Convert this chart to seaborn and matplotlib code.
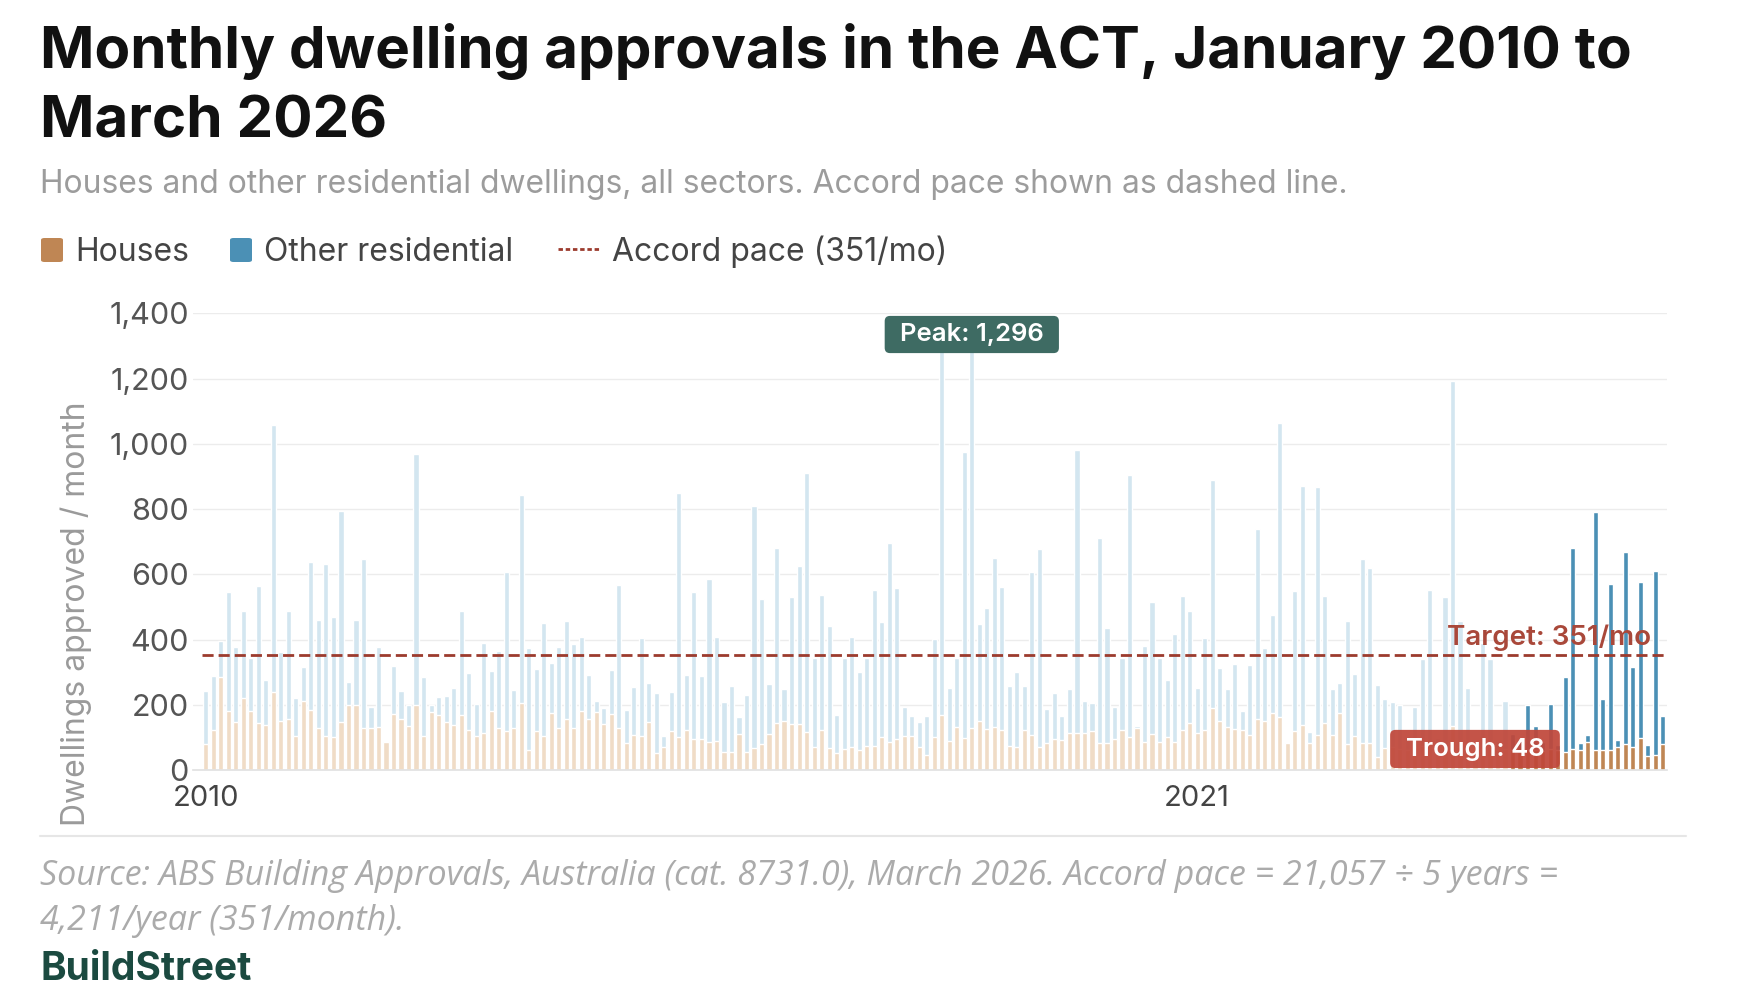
import numpy as np
import pandas as pd
import matplotlib
matplotlib.use('Agg')
import matplotlib.pyplot as plt
import seaborn as sns
from matplotlib.patches import FancyBboxPatch
from matplotlib.lines import Line2D
from matplotlib.ticker import FuncFormatter

# monthly approvals, Jan 2010 - Mar 2026 (one row per year)
houses = [
    80, 123, 286, 182, 148, 220, 182, 145, 138, 240, 151, 155,
    104, 210, 184, 128, 104, 102, 148, 199, 199, 128, 128, 133,
    87, 172, 155, 135, 200, 104, 179, 169, 148, 138, 169, 123,
    104, 114, 182, 128, 121, 128, 204, 61, 121, 104, 176, 128,
    155, 128, 182, 155, 179, 141, 172, 128, 82, 107, 104, 148,
    51, 72, 121, 100, 123, 94, 94, 87, 90, 56, 54, 110,
    54, 66, 80, 109, 143, 151, 141, 141, 118, 72, 123, 66,
    51, 63, 72, 61, 74, 74, 102, 87, 94, 104, 104, 72,
    46, 102, 169, 90, 133, 97, 128, 151, 125, 133, 123, 74,
    72, 123, 107, 72, 82, 94, 92, 112, 114, 112, 121, 82,
    82, 94, 123, 100, 128, 87, 110, 87, 100, 87, 123, 145,
    112, 123, 189, 151, 133, 125, 123, 107, 155, 151, 176, 164,
    84, 121, 138, 82, 107, 145, 107, 174, 80, 104, 84, 82,
    41, 67, 70, 65, 60, 70, 75, 80, 60, 70, 135, 70,
    60, 35, 65, 70, 60, 65, 60, 55, 60, 62, 58, 65,
    60, 54, 63, 61, 87, 61, 61, 61, 72, 80, 72, 99,
    43, 45, 80,
]
all_dwellings = [
    242, 289, 396, 546, 376, 486, 342, 565, 276, 1057, 361, 486,
    220, 316, 638, 460, 632, 470, 794, 270, 460, 648, 194, 376,
    87, 320, 242, 200, 969, 286, 200, 225, 227, 250, 488, 296,
    201, 390, 304, 365, 606, 245, 843, 373, 310, 452, 327, 378,
    457, 385, 409, 291, 210, 191, 307, 567, 184, 253, 404, 266,
    237, 105, 240, 848, 291, 546, 288, 585, 409, 207, 256, 164,
    230, 809, 525, 264, 680, 248, 529, 625, 910, 342, 536, 442,
    169, 342, 409, 301, 342, 552, 455, 695, 558, 192, 166, 148,
    166, 401, 1288, 250, 342, 976, 1296, 448, 496, 651, 560, 258,
    301, 258, 607, 678, 187, 235, 166, 247, 980, 210, 206, 712,
    434, 194, 342, 904, 135, 381, 516, 342, 276, 417, 533, 487,
    250, 404, 889, 312, 248, 325, 182, 322, 739, 374, 474, 1063,
    84, 550, 871, 118, 868, 533, 248, 266, 458, 294, 647, 619,
    261, 218, 207, 199, 105, 194, 339, 553, 98, 529, 1191, 458,
    252, 48, 390, 340, 90, 211, 110, 95, 199, 135, 85, 202,
    77, 284, 680, 84, 107, 791, 219, 571, 92, 667, 315, 577,
    77, 611, 166,
]
months = pd.date_range('2010-01-01', '2026-03-01', freq='MS')
accord_start = '2024-07-01'
accord_pace = 351
tick_months = ['2010-01', '2021-01']
tick_labels = ['2010', '2021']

df = pd.DataFrame({'month': months.strftime('%Y-%m'), 'houses': houses, 'total': all_dwellings})
df['period'] = np.where(months >= accord_start, 'accord', 'before')

sns.set_theme(style='white')
plt.rcParams['font.family'] = ['Inter', 'DejaVu Sans']

W, H = 1760, 1000
fig = plt.figure(figsize=(17.6, 10), dpi=100)
ax = fig.add_axes([193 / W, 0.23, (1666.5 - 193) / W, 0.4567])

# other residential sits on top of houses, so draw the total first then houses over it
sns.barplot(data=df, x='month', y='total', hue='period', dodge=False, width=0.68, saturation=1,
            palette={'before': '#d3e6f0', 'accord': '#4b90b5'}, errorbar=None, legend=False, ax=ax)
sns.barplot(data=df, x='month', y='houses', hue='period', dodge=False, width=0.68, saturation=1,
            palette={'before': '#f0dcc6', 'accord': '#bf8654'}, errorbar=None, legend=False, ax=ax)

ax.set_xlim(-1.7, len(df) - 0.5)
ax.set_ylim(0, 1400)
ax.set_yticks(range(0, 1401, 200))
ax.yaxis.set_major_formatter(FuncFormatter(lambda v, _: f'{int(v):,}'))
ax.set_xticks([df.index[df.month == m][0] for m in tick_months])
ax.set_xticklabels(tick_labels)
ax.set_xlabel('')
ax.set_ylabel('')
ax.grid(axis='y', color='#ececec', lw=1)
ax.set_axisbelow(True)
for s in ['top', 'right', 'left']:
    ax.spines[s].set_visible(False)
ax.spines['bottom'].set_color('#e2e2e2')
ax.tick_params(axis='y', length=0, pad=3, labelsize=22, labelcolor='#555555')
ax.tick_params(axis='x', length=0, pad=11, labelsize=21, labelcolor='#444444')

# accord pace
ax.plot([-0.5, len(df) - 0.5], [accord_pace, accord_pace], color='#9c3b2e', lw=2,
        dashes=(4, 1.8), zorder=5)
ax.text(192.4, accord_pace + 32, f'Target: {accord_pace}/mo', ha='right', va='baseline',
        fontsize=20, fontweight='semibold', color='#a9483a', zorder=6)

# peak and trough call-outs
peak_i = int(np.argmax(all_dwellings))
trough_i = int(np.argmin(all_dwellings))
ax.add_patch(FancyBboxPatch((peak_i - 11.6, 1278), 23.2, 114, boxstyle='round,pad=0,rounding_size=0.7',
                            mutation_aspect=23, fc='#3e6b63', ec='none', zorder=7, clip_on=False))
ax.text(peak_i, 1336, f'Peak: {max(all_dwellings):,}', ha='center', va='center', color='white',
        fontsize=18.5, fontweight='semibold', zorder=8)
ax.add_patch(FancyBboxPatch((trough_i - 11.3, 6), 22.6, 117, boxstyle='round,pad=0,rounding_size=0.7',
                            mutation_aspect=23, fc='#c0473a', ec='none', alpha=0.93, zorder=7))
ax.text(trough_i, 64, f'Trough: {min(all_dwellings)}', ha='center', va='center', color='white',
        fontsize=18.5, fontweight='semibold', zorder=8)

fig.text(76 / W, 1 - 614 / H, 'Dwellings approved / month', rotation=90, ha='center', va='center',
         fontsize=23, color='#9a9a9a')

# header
fig.text(40 / W, 1 - 68 / H, 'Monthly dwelling approvals in the ACT, January 2010 to', fontsize=42,
         fontweight='bold', color='#111111', va='baseline')
fig.text(40 / W, 1 - 137 / H, 'March 2026', fontsize=42, fontweight='bold', color='#111111', va='baseline')
fig.text(40 / W, 1 - 193 / H, 'Houses and other residential dwellings, all sectors. Accord pace shown as dashed line.',
         fontsize=22.9, color='#9c9c9c', va='baseline')

# legend
for x0, col, label in [(41, '#bf8654', 'Houses'), (230, '#4b90b5', 'Other residential')]:
    fig.add_artist(FancyBboxPatch((x0 / W, 1 - 262 / H), 22 / W, 24 / H, boxstyle='round,pad=0,rounding_size=0.002',
                                  transform=fig.transFigure, fc=col, ec='none'))
    fig.text((x0 + 34) / W, 1 - 261 / H, label, fontsize=23, color='#444444', va='baseline')
fig.add_artist(Line2D([558 / W, 600 / W], [1 - 249 / H] * 2, transform=fig.transFigure, color='#9c3b2e',
                      lw=2, dashes=(1.6, 1.0)))
fig.text(612 / W, 1 - 261 / H, f'Accord pace ({accord_pace}/mo)', fontsize=23, color='#444444', va='baseline')

# footer
fig.add_artist(Line2D([40 / W, 1686 / W], [1 - 836 / H] * 2, transform=fig.transFigure, color='#e6e6e6', lw=1.5))
fig.text(40 / W, 1 - 885 / H, 'Source: ABS Building Approvals, Australia (cat. 8731.0), March 2026. '
         'Accord pace = 21,057 ÷ 5 years =', fontsize=24.5, style='italic', color='#ababab', va='baseline',
         family=['Open Sans', 'DejaVu Sans'])
fig.text(40 / W, 1 - 930 / H, '4,211/year (351/month).', fontsize=24.5, style='italic', color='#ababab',
         va='baseline', family=['Open Sans', 'DejaVu Sans'])
fig.text(40 / W, 1 - 980 / H, 'BuildStreet', fontsize=28, fontweight='bold', color='#1b4a40', va='baseline')

fig.savefig('out.png', dpi=100, facecolor='white')
